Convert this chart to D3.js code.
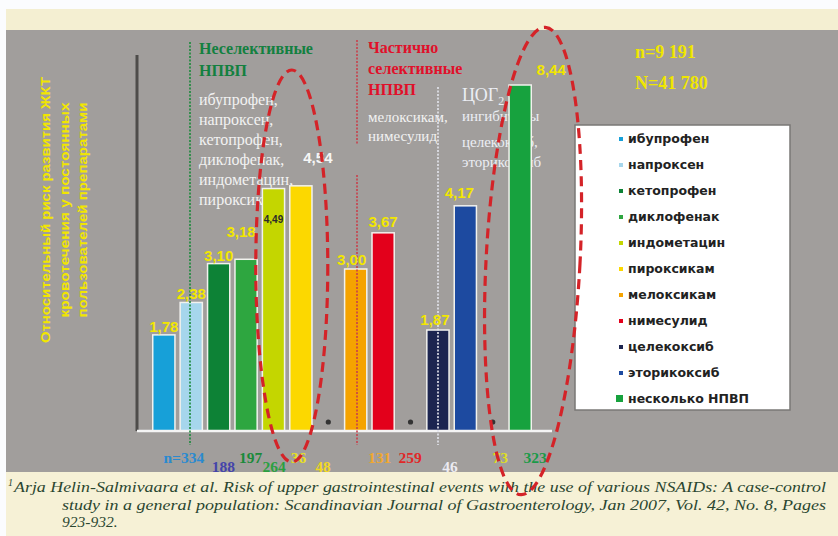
<!DOCTYPE html>
<html>
<head>
<meta charset="utf-8">
<script src="https://cdn.jsdelivr.net/npm/d3@7"></script>
<style>
  html, body { margin: 0; padding: 0; background: #fbfcfe; }
  svg { display: block; }
</style>
</head>
<body>
<svg id="chart" width="838" height="536"></svg>
<script>
// ---- data ----------------------------------------------------------------
// Slots along the x axis; null marks an empty slot drawn as a small dot.
const drugs = ["ибупрофен", "напроксен", "кетопрофен", "диклофенак", "индометацин", "пироксикам", null,
               "мелоксикам", "нимесулид", null, "целекоксиб", "эторикоксиб", null, "несколько НПВП"];
const riskValues = [1.78, 2.38, 3.10, 3.18, 4.49, 4.54, null, 3.00, 3.67, null, 1.87, 4.17, null, 8.44];
const valueLabels = ["1,78", "2,38", "3,10", "3,18", "4,49", "4,54", null, "3,00", "3,67", null, "1,87", "4,17", null, "8,44"];
const caseCounts = ["n=334", "188", "197", "264", "36", "48", null, "131", "259", null, "46", "73", null, "323"];
const barColors = ["#17a0d8", "#a6d6ec", "#0d8236", "#2ea640", "#c4d600", "#fcd800", null,
                   "#f5a300", "#e3001b", null, "#1c2550", "#1d4aa0", null, "#17a23e"];
const countColors = ["#2a8ad0", "#4444aa", "#1a8a3a", "#2aa040", "#e8e020", "#f0d820", null,
                     "#f0a830", "#e02828", null, "#ecebf2", "#dede24", null, "#1a9a48"];

const yAxisTitle = ["Относительный риск развития ЖКТ", "кровотечения у постоянных", "пользователей препаратами"];
const groupNonSelective = ["Неселективные", "НПВП"];
const groupNonSelectiveDrugs = ["ибупрофен,", "напроксен,", "кетопрофен,", "диклофенак,", "индометацин,", "пироксикам"];
const groupPartial = ["Частично", "селективные", "НПВП"];
const groupPartialDrugs = ["мелоксикам,", "нимесулид"];
const groupCox2Drugs = ["ингибиторы", "целекоксиб,", "эторикоксиб"];
const sampleInfo = ["n=9 191", "N=41 780"];
const footnote = [
  "Arja Helin-Salmivaara et al. Risk of upper gastrointestinal events with the use of various NSAIDs: A case-control",
  "study in a general population: Scandinavian Journal of Gastroenterology, Jan 2007, Vol. 42, No. 8, Pages",
  "923-932."
];

// ---- layout --------------------------------------------------------------
const svg = d3.select("#chart");
const baseY = 431;
const serif = "'Liberation Serif', 'Times New Roman', serif";
const sans = "'Liberation Sans', Arial, sans-serif";

// label nudges [dx, baseline offset above bar top]; negative offset puts the label inside the bar
const labelNudge = { 3: [-5, 22], 4: [0, -34], 5: [17, 23], 7: [-4, 4], 8: [0, 6], 10: [-3, 5], 11: [-6, 8], 13: [31, 10] };
const countShift = [20, 32, 32, 28, 25, 22, 0, 24, 27, 0, 12, 35, 0, 15];
const countRow   = [0, 1, 0, 1, 0, 1, 0, 0, 0, 0, 1, 0, 0, 0];

const x = d3.scaleBand().domain(d3.range(drugs.length)).range([150, 534]).paddingInner(0.19).paddingOuter(0.1);
// broken value axis: the last bar is compressed above 5
const y = d3.scaleLinear().domain([0, 5, 8.44]).range([baseY, 161, 85]);

// ---- background panels -----------------------------------------------------
svg.append("rect").attr("x", 6).attr("y", 30).attr("width", 832).attr("height", 442).attr("fill", "#a19e9c");
svg.append("rect").attr("x", 6).attr("y", 9).attr("width", 832).attr("height", 21).attr("fill", "#f4efd2");
svg.append("rect").attr("x", 6).attr("y", 472).attr("width", 832).attr("height", 64).attr("fill", "#f6f1d6");

// ---- y axis title ----------------------------------------------------------
const titleX = [45, 64, 82];
const titleLen = [266, 215, 215];
yAxisTitle.forEach((t, i) => {
  svg.append("text")
    .attr("transform", `translate(${titleX[i] + 5},210) rotate(-90)`)
    .attr("text-anchor", "middle")
    .attr("font-family", sans).attr("font-weight", "bold").attr("font-size", 13)
    .attr("fill", "#f2e600")
    .attr("textLength", titleLen[i]).attr("lengthAdjust", "spacingAndGlyphs")
    .text(t);
});

// ---- group captions (behind the bars) --------------------------------------
groupNonSelective.forEach((t, i) => {
  svg.append("text").attr("x", 199).attr("y", 54 + i * 22)
    .attr("font-family", serif).attr("font-weight", "bold").attr("font-size", 16)
    .attr("fill", "#138040").text(t);
});
groupNonSelectiveDrugs.forEach((t, i) => {
  svg.append("text").attr("x", 199).attr("y", 105 + i * 20)
    .attr("font-family", serif).attr("font-size", 16)
    .attr("fill", "#f2f2f2").text(t);
});
groupPartial.forEach((t, i) => {
  svg.append("text").attr("x", 368).attr("y", 53 + i * 21)
    .attr("font-family", serif).attr("font-weight", "bold").attr("font-size", 16)
    .attr("fill", "#e0102a").text(t);
});
groupPartialDrugs.forEach((t, i) => {
  svg.append("text").attr("x", 368).attr("y", 122 + i * 19)
    .attr("font-family", serif).attr("font-size", 15)
    .attr("fill", "#f2f2f2").text(t);
});
const cox = svg.append("text").attr("x", 462).attr("y", 101)
  .attr("font-family", serif).attr("font-size", 18).attr("fill", "#eceef4");
cox.append("tspan").text("ЦОГ");
cox.append("tspan").attr("font-size", 12).attr("dy", 4).text("2");
groupCox2Drugs.forEach((t, i) => {
  svg.append("text").attr("x", 462).attr("y", [121, 147, 167][i])
    .attr("font-family", serif).attr("font-size", 15)
    .attr("fill", "#eceef4").text(t);
});
sampleInfo.forEach((t, i) => {
  svg.append("text").attr("x", 635).attr("y", 58 + i * 31)
    .attr("font-family", serif).attr("font-weight", "bold").attr("font-size", 18)
    .attr("fill", "#f0e600").text(t);
});

// ---- axis line -------------------------------------------------------------
svg.append("line").attr("x1", 137).attr("x2", 137).attr("y1", 55).attr("y2", baseY)
  .attr("stroke", "#4e4c4a").attr("stroke-width", 3);

// ---- bars ----------------------------------------------------------------
const slots = d3.range(drugs.length);
const filled = slots.filter(i => riskValues[i] !== null);
const empty = slots.filter(i => riskValues[i] === null);

svg.append("g").selectAll("rect").data(filled).join("rect")
  .attr("x", i => x(i))
  .attr("y", i => y(riskValues[i]))
  .attr("width", x.bandwidth())
  .attr("height", i => baseY - y(riskValues[i]))
  .attr("fill", i => barColors[i])
  .attr("stroke", "#f2f2ee").attr("stroke-width", 1.5);

svg.append("g").selectAll("circle").data(empty).join("circle")
  .attr("cx", i => x(i) + x.bandwidth() / 2)
  .attr("cy", baseY - 9)
  .attr("r", 2.6)
  .attr("fill", "#333");

svg.append("line").attr("x1", 137).attr("x2", 552).attr("y1", baseY).attr("y2", baseY)
  .attr("stroke", "#f4f4f4").attr("stroke-width", 2.5);

// ---- group separators ------------------------------------------------------
function sep(xp, y1, y2, color) {
  svg.append("line").attr("x1", xp).attr("x2", xp).attr("y1", y1).attr("y2", y2)
    .attr("stroke", color).attr("stroke-width", 2).attr("stroke-dasharray", "2,1.5").attr("opacity", 0.8);
}
sep(190, 42, 445, "#1a8a3a");
sep(357, 40, 145, "#c8404c");
sep(357, 175, 445, "#c8404c");
sep(438, 87, 445, "#e4e6ee");

// ---- value labels ----------------------------------------------------------
svg.append("g").selectAll("text").data(filled).join("text")
  .attr("x", i => x(i) + x.bandwidth() / 2 + (labelNudge[i] ? labelNudge[i][0] : 0))
  .attr("y", i => y(riskValues[i]) - (labelNudge[i] ? labelNudge[i][1] : 3))
  .attr("text-anchor", "middle")
  .attr("font-family", sans).attr("font-weight", "bold")
  .attr("font-size", i => i === 4 ? 10 : 15)
  .attr("fill", i => i === 4 ? "#2a2a2a" : (i === 5 ? "#f6f6f6" : "#f2e600"))
  .text(i => valueLabels[i]);

// ---- case counts below bars ------------------------------------------------
svg.append("g").selectAll("text").data(filled).join("text")
  .attr("x", i => x(i) + x.bandwidth() / 2 + countShift[i])
  .attr("y", i => countRow[i] ? 472 : 463)
  .attr("text-anchor", "middle")
  .attr("font-family", serif).attr("font-weight", "bold").attr("font-size", 15.5)
  .attr("fill", i => countColors[i])
  .text(i => caseCounts[i]);

// ---- legend --------------------------------------------------------------
const legendDrugs = drugs.map((d, i) => ({ name: d, color: barColors[i] })).filter(d => d.name);
svg.append("rect").attr("x", 575).attr("y", 125).attr("width", 215).attr("height", 285)
  .attr("fill", "#ffffff").attr("stroke", "#7a7876").attr("stroke-width", 1.5);
const lg = svg.append("g").selectAll("g").data(legendDrugs).join("g")
  .attr("transform", (d, i) => `translate(622,${139 + i * 26})`);
lg.append("rect")
  .attr("x", (d, i) => i === legendDrugs.length - 1 ? -6 : -3)
  .attr("y", (d, i) => i === legendDrugs.length - 1 ? -4 : -2)
  .attr("width", (d, i) => i === legendDrugs.length - 1 ? 7 : 4)
  .attr("height", (d, i) => i === legendDrugs.length - 1 ? 7 : 4)
  .attr("fill", d => d.color);
lg.append("text").attr("x", 6).attr("dy", "0.35em")
  .attr("font-family", "'DejaVu Sans', Verdana, sans-serif").attr("font-weight", "bold").attr("font-size", 12.5)
  .attr("fill", "#222").text(d => d.name);

// ---- footnote ------------------------------------------------------------
const fnStyle = sel => sel.attr("font-family", serif).attr("font-style", "italic")
  .attr("font-size", 15.5).attr("fill", "#2a4630");
svg.append("text").attr("x", 8).attr("y", 486).attr("font-family", serif).attr("font-style", "italic")
  .attr("font-size", 10).attr("fill", "#2a4630").text("1");
svg.append("text").attr("x", 14).attr("y", 492).attr("textLength", 812).attr("lengthAdjust", "spacingAndGlyphs")
  .call(fnStyle).text(footnote[0]);
svg.append("text").attr("x", 62).attr("y", 510).attr("textLength", 764).attr("lengthAdjust", "spacingAndGlyphs")
  .call(fnStyle).text(footnote[1]);
svg.append("text").attr("x", 62).attr("y", 527).call(fnStyle).text(footnote[2]);

// ---- highlight ellipses ----------------------------------------------------
function highlight(cx, cy, rx, ry, angle) {
  svg.append("ellipse").attr("cx", cx).attr("cy", cy).attr("rx", rx).attr("ry", ry)
    .attr("transform", `rotate(${angle},${cx},${cy})`)
    .attr("fill", "none").attr("stroke", "#d42328").attr("stroke-width", 3.2)
    .attr("stroke-dasharray", "10,6");
}
highlight(x(5) + 2, 266, 36, 196, 0);
highlight(x(13) + 24, 261, 47, 234, 3);
</script>
</body>
</html>
